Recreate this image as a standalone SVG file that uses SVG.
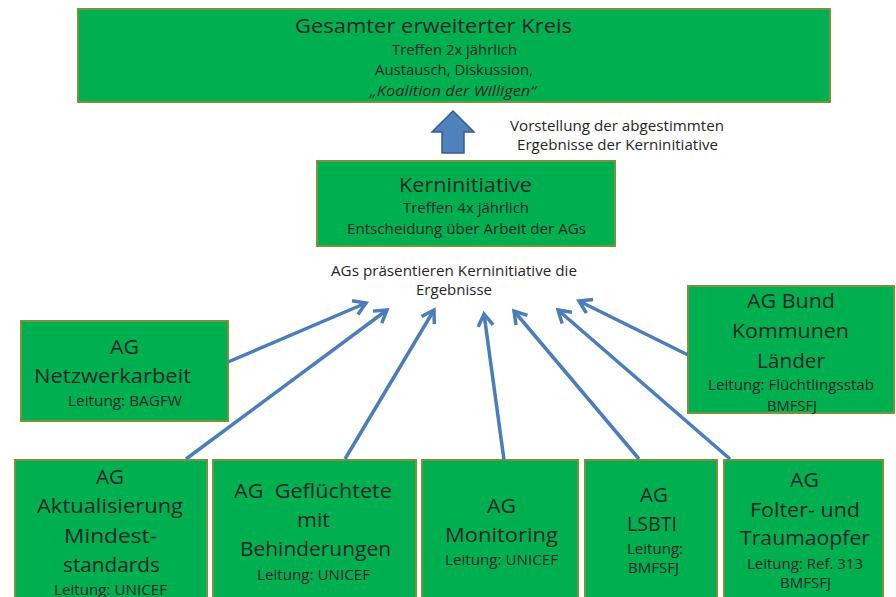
<svg xmlns="http://www.w3.org/2000/svg" width="896" height="597" viewBox="0 0 896 597">
<style>
.box{fill:#00b050;stroke:#77933c;stroke-width:2}
text{font-family:"Open Sans","Liberation Sans",sans-serif;fill:#262626;lengthAdjust:spacingAndGlyphs}
.b{font-size:20px}
.s{font-size:14px}
.it{font-style:italic}
.conn{stroke:#4a7ebb;stroke-width:3.5;fill:none;marker-end:url(#ah)}
</style>
<defs>
<marker id="ah" markerUnits="userSpaceOnUse" markerWidth="20" markerHeight="20" viewBox="-16 -10 20 20" refX="0" refY="0" orient="auto">
<path d="M-12,-7.5 L0,0 L-12,7.5" fill="none" stroke="#4a7ebb" stroke-width="3.5" stroke-linejoin="miter"/>
</marker>
</defs>
<rect width="896" height="597" fill="#ffffff"/>

<g id="kreis">
<rect class="box" x="78" y="9" width="752" height="93"/>
<text class="b" x="295" y="33" textLength="277" lengthAdjust="spacingAndGlyphs">Gesamter erweiterter Kreis</text>
<text class="s" x="392" y="55" textLength="125" lengthAdjust="spacingAndGlyphs">Treffen 2x jährlich</text>
<text class="s" x="375" y="75" textLength="158" lengthAdjust="spacingAndGlyphs">Austausch, Diskussion,</text>
<text class="s it" x="370" y="96" textLength="166" lengthAdjust="spacingAndGlyphs">„Koalition der Willigen“</text>
</g>

<g id="uparrow">
<polygon points="453,111 474,132 464,132 464,153 442,153 442,132 432,132" fill="#4f81bd" stroke="#385d8a" stroke-width="1.5"/>
</g>

<g id="label-vorstellung">
<text class="s" x="510" y="131" textLength="214" lengthAdjust="spacingAndGlyphs">Vorstellung der abgestimmten</text>
<text class="s" x="517" y="150" textLength="201" lengthAdjust="spacingAndGlyphs">Ergebnisse der Kerninitiative</text>
</g>

<g id="kerninitiative">
<rect class="box" x="317" y="161" width="298" height="85"/>
<text class="b" x="399" y="192" textLength="133" lengthAdjust="spacingAndGlyphs">Kerninitiative</text>
<text class="s" x="403" y="213" textLength="126" lengthAdjust="spacingAndGlyphs">Treffen 4x jährlich</text>
<text class="s" x="347" y="234" textLength="239" lengthAdjust="spacingAndGlyphs">Entscheidung über Arbeit der AGs</text>
</g>

<g id="label-ags">
<text class="s" x="331" y="276" textLength="246" lengthAdjust="spacingAndGlyphs">AGs präsentieren Kerninitiative die</text>
<text class="s" x="416" y="295" textLength="76" lengthAdjust="spacingAndGlyphs">Ergebnisse</text>
</g>

<g id="ag-netzwerkarbeit">
<rect class="box" x="21" y="321" width="207" height="100"/>
<text class="b" x="110" y="354" textLength="29" lengthAdjust="spacingAndGlyphs">AG</text>
<text class="b" x="34" y="383" textLength="157" lengthAdjust="spacingAndGlyphs">Netzwerkarbeit</text>
<text class="s" x="68" y="406" textLength="114" lengthAdjust="spacingAndGlyphs">Leitung: BAGFW</text>
</g>

<g id="ag-bund">
<rect class="box" x="688" y="286" width="206" height="127"/>
<text class="b" x="747" y="308" textLength="88" lengthAdjust="spacingAndGlyphs">AG Bund</text>
<text class="b" x="732" y="338" textLength="117" lengthAdjust="spacingAndGlyphs">Kommunen</text>
<text class="b" x="757" y="368" textLength="68" lengthAdjust="spacingAndGlyphs">Länder</text>
<text class="s" x="708" y="390" textLength="166" lengthAdjust="spacingAndGlyphs">Leitung: Flüchtlingsstab</text>
<text class="s" x="767" y="411" textLength="50" lengthAdjust="spacingAndGlyphs">BMFSFJ</text>
</g>

<g id="ag-aktualisierung">
<rect class="box" x="15" y="460" width="192" height="150"/>
<text class="b" x="96" y="484" textLength="28" lengthAdjust="spacingAndGlyphs">AG</text>
<text class="b" x="37" y="513" textLength="146" lengthAdjust="spacingAndGlyphs">Aktualisierung</text>
<text class="b" x="64" y="543" textLength="93" lengthAdjust="spacingAndGlyphs">Mindest-</text>
<text class="b" x="63" y="572" textLength="97" lengthAdjust="spacingAndGlyphs">standards</text>
<text class="s" x="54" y="595" textLength="113" lengthAdjust="spacingAndGlyphs">Leitung: UNICEF</text>
</g>

<g id="ag-gefluechtete">
<rect class="box" x="213" y="460" width="203" height="150"/>
<text class="b" x="234" y="498" textLength="158" lengthAdjust="spacingAndGlyphs" xml:space="preserve">AG  Geflüchtete</text>
<text class="b" x="297" y="527" textLength="33" lengthAdjust="spacingAndGlyphs">mit</text>
<text class="b" x="240" y="556" textLength="151" lengthAdjust="spacingAndGlyphs">Behinderungen</text>
<text class="s" x="257" y="580" textLength="113" lengthAdjust="spacingAndGlyphs">Leitung: UNICEF</text>
</g>

<g id="ag-monitoring">
<rect class="box" x="422" y="460" width="156" height="150"/>
<text class="b" x="487" y="513" textLength="29" lengthAdjust="spacingAndGlyphs">AG</text>
<text class="b" x="445" y="542" textLength="113" lengthAdjust="spacingAndGlyphs">Monitoring</text>
<text class="s" x="445" y="565" textLength="113" lengthAdjust="spacingAndGlyphs">Leitung: UNICEF</text>
</g>

<g id="ag-lsbti">
<rect class="box" x="585" y="460" width="132" height="150"/>
<text class="b" x="640" y="502" textLength="28" lengthAdjust="spacingAndGlyphs">AG</text>
<text class="b" x="627" y="531" textLength="50" lengthAdjust="spacingAndGlyphs">LSBTI</text>
<text class="s" x="627" y="554" textLength="56" lengthAdjust="spacingAndGlyphs">Leitung:</text>
<text class="s" x="628" y="573" textLength="51" lengthAdjust="spacingAndGlyphs">BMFSFJ</text>
</g>

<g id="ag-folter">
<rect class="box" x="724" y="460" width="159" height="150"/>
<text class="b" x="790" y="487" textLength="29" lengthAdjust="spacingAndGlyphs">AG</text>
<text class="b" x="750" y="517" textLength="110" lengthAdjust="spacingAndGlyphs">Folter- und</text>
<text class="b" x="740" y="545" textLength="130" lengthAdjust="spacingAndGlyphs">Traumaopfer</text>
<text class="s" x="747" y="569" textLength="116" lengthAdjust="spacingAndGlyphs">Leitung: Ref. 313</text>
<text class="s" x="780" y="588" textLength="51" lengthAdjust="spacingAndGlyphs">BMFSFJ</text>
</g>

<g id="connectors">
<line class="conn" x1="228" y1="362" x2="366" y2="303"/>
<line class="conn" x1="186" y1="459" x2="387" y2="310"/>
<line class="conn" x1="345" y1="459" x2="434" y2="310"/>
<line class="conn" x1="504" y1="460" x2="484" y2="314"/>
<line class="conn" x1="639" y1="459" x2="514" y2="311"/>
<line class="conn" x1="730" y1="459" x2="558" y2="310"/>
<line class="conn" x1="688" y1="355" x2="579" y2="301"/>
</g>
</svg>
